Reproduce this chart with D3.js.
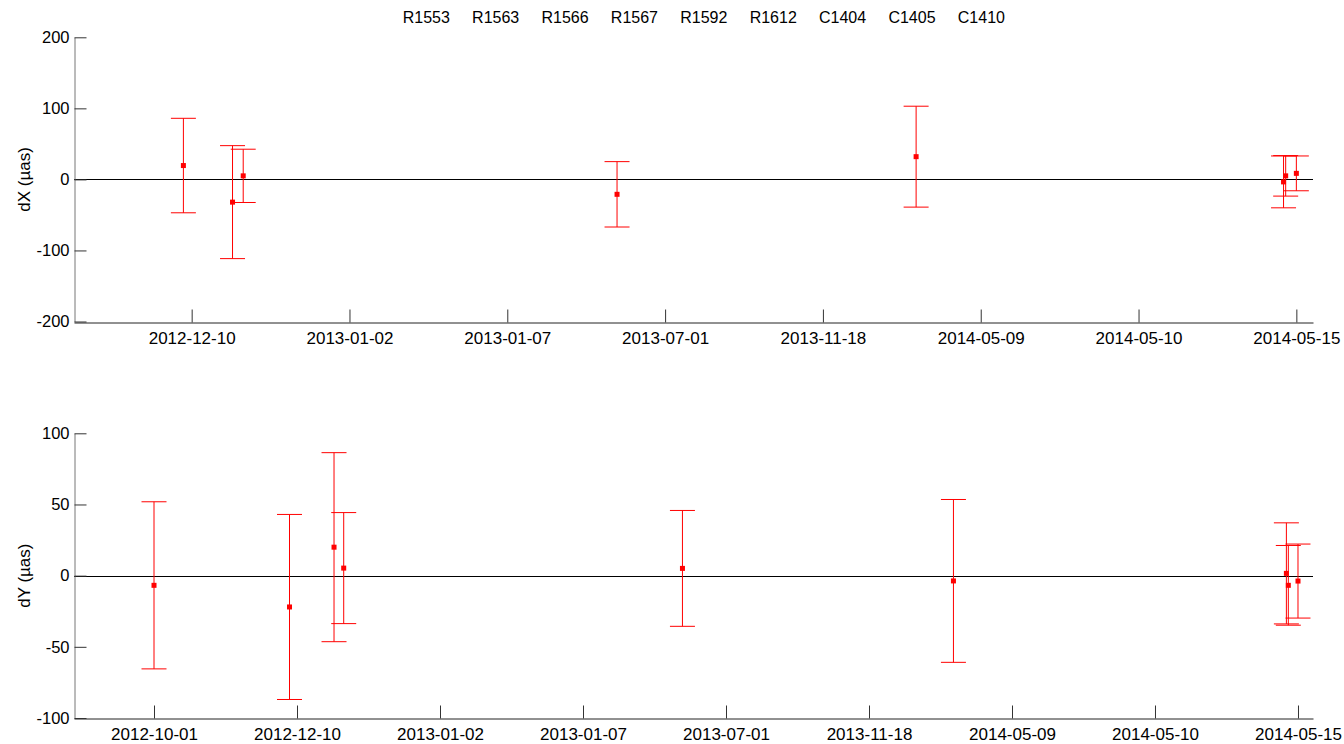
<!DOCTYPE html>
<html>
<head>
<meta charset="utf-8">
<script src="https://cdn.jsdelivr.net/npm/d3@7"></script>
<style>
  html, body { margin: 0; padding: 0; background: #fff; }
  svg { display: block; font-family: "Liberation Sans", Arial, Helvetica, sans-serif; }
</style>
</head>
<body>
<svg id="chart" width="1344" height="744"></svg>
<script>
// Sessions and their observation dates
const sessions = ["R1553", "R1563", "R1566", "R1567", "R1592", "R1612", "C1404", "C1405", "C1410"];
const tickLabels = ["2012-10-01", "2012-12-10", "2013-01-02", "2013-01-07", "2013-07-01",
                    "2013-11-18", "2014-05-09", "2014-05-10", "2014-05-15"];

// dX offsets (µas) with formal errors
const dxDates  = ["2012-12-10", "2013-01-02", "2013-01-07", "2013-07-01", "2013-11-18",
                  "2014-05-09", "2014-05-10", "2014-05-15"];
const dxValues = [19.5, -32, 5, -21, 32, -3.5, 5, 8.5];
const dxErrors = [66.5, 79.5, 37.5, 46, 71, 36.5, 28.5, 24.5];

// dY offsets (µas) with formal errors
const dyDates  = ["2012-10-01", "2012-12-10", "2013-01-02", "2013-01-07", "2013-07-01",
                  "2013-11-18", "2014-05-09", "2014-05-10", "2014-05-15"];
const dyValues = [-6.8, -22, 20, 5.3, 5.1, -3.7, 1.6, -6.8, -3.8];
const dyErrors = [58.7, 65, 66.4, 39, 40.7, 57.2, 35.5, 28, 26];

// Axis ranges
const dxTicks = [-200, -100, 0, 100, 200];
const dyTicks = [-100, -50, 0, 50, 100];
const dxTimeDomain = ["2012-10-19T19:00:00Z", "2014-05-22T19:00:00Z"];
const dyTimeDomain = ["2012-08-20T16:00:00Z", "2014-05-22T18:00:00Z"];

const parse = s => new Date(s.length === 10 ? s + "T00:00:00Z" : s);

const svg = d3.select("#chart");
const left = 74, right = 1313;

// Tick dates are spread evenly between the first and last session
const t0 = parse(tickLabels[0]), t1 = parse(tickLabels[tickLabels.length - 1]);
const tickItems = tickLabels.map((label, i) => ({
  date: d3.interpolateDate(t0, t1)(i / (tickLabels.length - 1)),
  label
}));

// Session header
const sx = d3.scalePoint().domain(sessions).range([402.7, 957.8]);
svg.append("g").selectAll("text").data(sessions).join("text")
  .attr("x", d => sx(d)).attr("y", 23.3)
  .attr("font-size", 16).attr("fill", "#000")
  .text(d => d);

function panel(cfg) {
  const x = d3.scaleUtc().domain(cfg.timeDomain.map(parse)).range([left, right]);
  const y = d3.scaleLinear().domain([cfg.ticks[0], cfg.ticks[cfg.ticks.length - 1]]).range([cfg.bottom, cfg.top]);
  const g = svg.append("g");

  // Zero line
  g.append("line")
    .attr("x1", left).attr("x2", right)
    .attr("y1", Math.round(y(0)) + 0.5).attr("y2", Math.round(y(0)) + 0.5)
    .attr("stroke", "#000").attr("stroke-width", 1);

  // Bottom axis with upward ticks
  const ticks = tickItems.filter(t => t.date >= x.domain()[0] && t.date <= x.domain()[1]);
  const labelOf = new Map(ticks.map(t => [+t.date, t.label]));
  const xa = g.append("g")
    .attr("transform", `translate(0,${Math.round(cfg.bottom) + 0.5})`)
    .call(d3.axisBottom(x).tickValues(ticks.map(t => t.date))
      .tickFormat(d => labelOf.get(+d)).tickSizeInner(-13).tickSizeOuter(0));
  xa.select(".domain").attr("stroke", "#222");
  xa.selectAll(".tick line").attr("stroke", "#333");
  xa.selectAll(".tick text").attr("y", 21.5).attr("dy", 0)
    .attr("font-size", 17).attr("fill", "#000").attr("font-family", null);

  // Left axis with inward ticks
  const ya = g.append("g")
    .attr("transform", `translate(${left + 0.5},0)`)
    .call(d3.axisLeft(y).tickValues(cfg.ticks).tickFormat(d => String(d))
      .tickSizeInner(-12).tickSizeOuter(0).tickPadding(5));
  ya.select(".domain").attr("stroke", "#777");
  ya.selectAll(".tick line").attr("stroke", "#333");
  ya.selectAll(".tick text").attr("font-size", 16.5).attr("fill", "#000").attr("font-family", null);

  // Axis title
  g.append("text")
    .attr("transform", `translate(30,${y(0)}) rotate(-90)`)
    .attr("text-anchor", "middle").attr("font-size", 17).attr("fill", "#000")
    .text(cfg.label);

  // Error bars
  const pts = cfg.dates.map((d, i) => ({ date: parse(d), v: cfg.values[i], e: cfg.errors[i] }));
  const cap = 12.5;
  const bars = g.append("g").attr("stroke", "#ff0000").attr("stroke-width", 1).attr("fill", "none");
  bars.selectAll("line.v").data(pts).join("line").attr("class", "v")
    .attr("x1", d => x(d.date)).attr("x2", d => x(d.date))
    .attr("y1", d => y(d.v + d.e)).attr("y2", d => y(d.v - d.e));
  bars.selectAll("line.hi").data(pts).join("line").attr("class", "hi")
    .attr("x1", d => x(d.date) - cap).attr("x2", d => x(d.date) + cap)
    .attr("y1", d => y(d.v + d.e)).attr("y2", d => y(d.v + d.e));
  bars.selectAll("line.lo").data(pts).join("line").attr("class", "lo")
    .attr("x1", d => x(d.date) - cap).attr("x2", d => x(d.date) + cap)
    .attr("y1", d => y(d.v - d.e)).attr("y2", d => y(d.v - d.e));

  // Points
  g.append("g").selectAll("rect").data(pts).join("rect")
    .attr("x", d => x(d.date) - 2.5).attr("y", d => y(d.v) - 2.5)
    .attr("width", 5).attr("height", 5).attr("fill", "#ff0000");
}

panel({ top: 37.3, bottom: 321.5, ticks: dxTicks, timeDomain: dxTimeDomain,
        dates: dxDates, values: dxValues, errors: dxErrors, label: "dX (µas)" });
panel({ top: 433.3, bottom: 718, ticks: dyTicks, timeDomain: dyTimeDomain,
        dates: dyDates, values: dyValues, errors: dyErrors, label: "dY (µas)" });
</script>
</body>
</html>
